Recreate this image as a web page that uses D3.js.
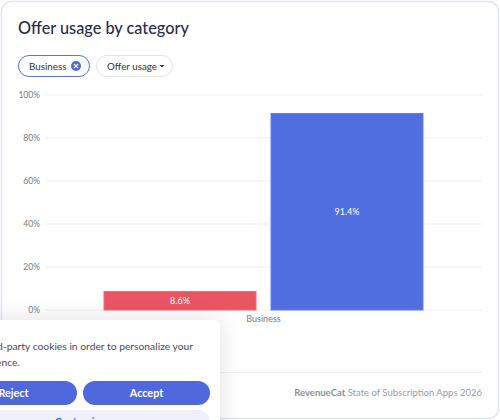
<!DOCTYPE html>
<html>
<head>
<meta charset="utf-8">
<script src="https://cdn.jsdelivr.net/npm/d3@7"></script>
<style>
  html, body { margin: 0; padding: 0; background: #fff; }
  svg { display: block; font-family: Lato, "Noto Sans", sans-serif; }
</style>
</head>
<body>
<div id="chart"></div>
<script>
// chart data
const categories = ["Business"];
const seriesKeys = ["No offer", "Used offer"];
const seriesValues = [8.6, 91.4];
const seriesColors = ["#ea5562", "#506ee0"];
const yTicks = [0, 20, 40, 60, 80, 100];

const width = 500, height = 420;
const margin = {top: 95, right: 18, bottom: 110, left: 45};

const svg = d3.select("#chart").append("svg")
    .attr("width", width)
    .attr("height", height);

const defs = svg.append("defs");
const shadow = defs.append("filter")
    .attr("id", "pop-shadow")
    .attr("x", "-50%").attr("y", "-50%")
    .attr("width", "200%").attr("height", "200%");
shadow.append("feDropShadow")
    .attr("dx", 0).attr("dy", 0)
    .attr("stdDeviation", 12)
    .attr("flood-color", "#000")
    .attr("flood-opacity", 0.12);

// card
svg.append("rect")
    .attr("x", 1.5).attr("y", 1.5)
    .attr("width", width - 3).attr("height", height - 3)
    .attr("rx", 10)
    .attr("fill", "#fff")
    .attr("stroke", "#e3e5f4")
    .attr("stroke-width", 1.5);

svg.append("text")
    .attr("x", 18).attr("y", 33.5)
    .attr("font-size", 16.3)
    .attr("font-weight", 500)
    .attr("fill", "#2a2c4c")
    .text("Offer usage by category");

// filter chips
const chip1 = svg.append("g").attr("transform", "translate(18,55)");
chip1.append("rect")
    .attr("x", 0.5).attr("y", 0.5)
    .attr("width", 71).attr("height", 21).attr("rx", 10.5)
    .attr("fill", "#fff").attr("stroke", "#5a6fe0");
chip1.append("text")
    .attr("x", 11).attr("y", 14.5)
    .attr("font-size", 9.8).attr("fill", "#333")
    .text("Business");
chip1.append("circle")
    .attr("cx", 58).attr("cy", 11).attr("r", 5)
    .attr("fill", "#4f66dc");
chip1.append("path")
    .attr("d", "M55.8,8.8L60.2,13.2M60.2,8.8L55.8,13.2")
    .attr("stroke", "#fff").attr("stroke-width", 1.2);

const chip2 = svg.append("g").attr("transform", "translate(96,55)");
chip2.append("rect")
    .attr("x", 0.5).attr("y", 0.5)
    .attr("width", 76).attr("height", 21).attr("rx", 10.5)
    .attr("fill", "#fff").attr("stroke", "#e3e3ea");
chip2.append("text")
    .attr("x", 11).attr("y", 14.5)
    .attr("font-size", 9.8).attr("fill", "#333")
    .text("Offer usage");
chip2.append("path")
    .attr("d", "M63.5,10L68.5,10L66,12.5Z")
    .attr("fill", "#333");

// scales
const x0 = d3.scaleBand()
    .domain(categories)
    .range([margin.left, width - margin.right])
    .paddingOuter(0.185)
    .paddingInner(0);

const x1 = d3.scaleBand()
    .domain(seriesKeys)
    .range([0, x0.bandwidth()])
    .paddingInner(0.09);

const y = d3.scaleLinear()
    .domain([0, 100])
    .range([height - margin.bottom, margin.top]);

// grid + y labels
const grid = svg.append("g");
grid.selectAll("line")
    .data(yTicks)
    .join("line")
    .attr("x1", margin.left).attr("x2", width - margin.right)
    .attr("y1", d => y(d)).attr("y2", d => y(d))
    .attr("stroke", "#efeff2");
grid.selectAll("text")
    .data(yTicks)
    .join("text")
    .attr("x", 40).attr("y", d => y(d) + 3)
    .attr("text-anchor", "end")
    .attr("font-size", 8.5)
    .attr("fill", "#7a7a86")
    .text(d => d + "%");

// bars
const rows = categories.map(c => ({
    category: c,
    values: seriesKeys.map((k, i) => ({key: k, value: seriesValues[i], color: seriesColors[i]}))
}));

const group = svg.append("g").selectAll("g")
    .data(rows)
    .join("g")
    .attr("transform", d => `translate(${x0(d.category)},0)`);

group.selectAll("rect")
    .data(d => d.values)
    .join("rect")
    .attr("x", d => x1(d.key))
    .attr("y", d => y(d.value))
    .attr("width", x1.bandwidth())
    .attr("height", d => y(0) - y(d.value))
    .attr("fill", d => d.color)
    .attr("stroke", d => d3.color(d.color).brighter(0.4))
    .attr("stroke-width", 1);

group.selectAll("text")
    .data(d => d.values)
    .join("text")
    .attr("x", d => x1(d.key) + x1.bandwidth() / 2)
    .attr("y", d => (y(d.value) + y(0)) / 2 + 3)
    .attr("text-anchor", "middle")
    .attr("font-size", 9)
    .attr("fill", "#fff")
    .text(d => d.value.toFixed(1) + "%");

svg.append("g").selectAll("text")
    .data(categories)
    .join("text")
    .attr("x", d => x0(d) + x0.bandwidth() / 2)
    .attr("y", y(0) + 12)
    .attr("text-anchor", "middle")
    .attr("font-size", 9)
    .attr("fill", "#7a7a86")
    .text(d => d);

// footer
svg.append("line")
    .attr("x1", 18).attr("x2", width - margin.right)
    .attr("y1", 372.5).attr("y2", 372.5)
    .attr("stroke", "#ececf2");
const foot = svg.append("text")
    .attr("x", width - margin.right).attr("y", 396)
    .attr("text-anchor", "end")
    .attr("font-size", 9.5)
    .attr("fill", "#9a9aa6");
foot.append("tspan").attr("font-weight", 700).attr("fill", "#8e8e9a").text("RevenueCat");
foot.append("tspan").text(" State of Subscription Apps 2026");

// cookie popup
const pop = svg.append("g");
pop.append("rect")
    .attr("x", -40).attr("y", 320)
    .attr("width", 260).attr("height", 140).attr("rx", 7)
    .attr("fill", "#fff")
    .attr("filter", "url(#pop-shadow)");
pop.append("text")
    .attr("x", 193).attr("y", 350)
    .attr("text-anchor", "end")
    .attr("font-size", 10.3).attr("fill", "#4a4b5c")
    .text("We use third-party cookies in order to personalize your");
pop.append("text")
    .attr("x", 20).attr("y", 366)
    .attr("text-anchor", "end")
    .attr("font-size", 10.3).attr("fill", "#4a4b5c")
    .text("experience.");

const buttons = [
    {label: "Reject", x: -50, w: 127},
    {label: "Accept", x: 83, w: 127}
];
const btn = pop.selectAll("g.btn")
    .data(buttons)
    .join("g")
    .attr("class", "btn");
btn.append("rect")
    .attr("x", d => d.x).attr("y", 381)
    .attr("width", d => d.w).attr("height", 24).attr("rx", 12)
    .attr("fill", "#5068dc");
btn.append("text")
    .attr("x", d => d.x + d.w / 2).attr("y", 397)
    .attr("text-anchor", "middle")
    .attr("font-size", 10.8).attr("font-weight", 700)
    .attr("fill", "#fff")
    .text(d => d.label);

pop.append("rect")
    .attr("x", -50).attr("y", 410)
    .attr("width", 260).attr("height", 24).attr("rx", 12)
    .attr("fill", "#eef0fb");
pop.append("text")
    .attr("x", 80).attr("y", 426)
    .attr("text-anchor", "middle")
    .attr("font-size", 10.8).attr("font-weight", 700)
    .attr("fill", "#4f66d8")
    .text("Customize");
</script>
</body>
</html>
